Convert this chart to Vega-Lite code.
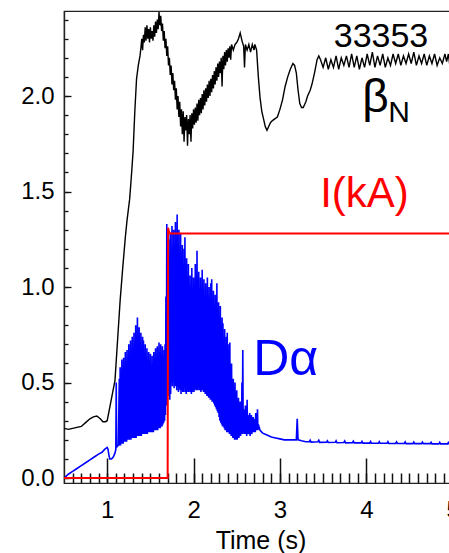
{
  "$schema": "https://vega.github.io/schema/vega-lite/v6.json",
  "autosize": "none",
  "width": 393,
  "height": 472,
  "padding": {"left": 64, "top": 11, "right": 0, "bottom": 70},
  "background": "white",
  "config": {
    "view": {"stroke": "#222", "strokeWidth": 1.2},
    "font": "Liberation Sans"
  },
  "resolve": {"axis": {"x": "independent", "y": "independent"}},
  "datasets": {
    "beta": [
      {"t":0.50,"v":0.26},{"t":0.55,"v":0.255},{"t":0.60,"v":0.26},{"t":0.65,"v":0.265},{"t":0.70,"v":0.27},{"t":0.75,"v":0.29},{"t":0.80,"v":0.31},{"t":0.84,"v":0.32},{"t":0.88,"v":0.325},{"t":0.92,"v":0.31},{"t":0.95,"v":0.295},{"t":0.98,"v":0.295},{"t":1.00,"v":0.30},{"t":1.03,"v":0.37},{"t":1.06,"v":0.44},{"t":1.09,"v":0.51},{"t":1.12,"v":0.72},{"t":1.15,"v":0.93},{"t":1.18,"v":1.10},{"t":1.21,"v":1.26},{"t":1.23,"v":1.35},{"t":1.26,"v":1.46},{"t":1.28,"v":1.58},{"t":1.30,"v":1.71},{"t":1.32,"v":1.92},{"t":1.34,"v":2.09},{"t":1.36,"v":2.16},{"t":1.38,"v":2.21},
      {"t":1.39,"v":2.25},{"t":1.40,"v":2.30},{"t":1.41,"v":2.24},{"t":1.42,"v":2.32},{"t":1.43,"v":2.28},{"t":1.44,"v":2.36},{"t":1.45,"v":2.29},{"t":1.46,"v":2.37},{"t":1.47,"v":2.30},{"t":1.48,"v":2.35},{"t":1.49,"v":2.28},{"t":1.50,"v":2.36},{"t":1.51,"v":2.30},{"t":1.52,"v":2.34},{"t":1.53,"v":2.29},{"t":1.54,"v":2.37},{"t":1.55,"v":2.31},{"t":1.56,"v":2.39},{"t":1.57,"v":2.33},{"t":1.58,"v":2.40},{"t":1.59,"v":2.35},{"t":1.60,"v":2.44},{"t":1.61,"v":2.37},{"t":1.62,"v":2.42},{"t":1.63,"v":2.34},{"t":1.64,"v":2.38},{"t":1.65,"v":2.29},{"t":1.66,"v":2.34},{"t":1.67,"v":2.25},{"t":1.68,"v":2.30},{"t":1.69,"v":2.21},{"t":1.70,"v":2.26},{"t":1.71,"v":2.16},{"t":1.72,"v":2.20},{"t":1.73,"v":2.11},{"t":1.74,"v":2.16},{"t":1.75,"v":2.06},{"t":1.76,"v":2.12},{"t":1.77,"v":2.03},{"t":1.78,"v":2.08},{"t":1.79,"v":1.98},{"t":1.80,"v":2.04},{"t":1.81,"v":1.93},{"t":1.82,"v":2.00},{"t":1.83,"v":1.89},{"t":1.84,"v":1.97},{"t":1.85,"v":1.84},{"t":1.86,"v":1.93},{"t":1.87,"v":1.80},{"t":1.88,"v":1.92},{"t":1.89,"v":1.76},{"t":1.90,"v":1.89},{"t":1.91,"v":1.82},{"t":1.92,"v":1.90},{"t":1.93,"v":1.74},{"t":1.94,"v":1.88},{"t":1.95,"v":1.80},{"t":1.96,"v":1.90},{"t":1.97,"v":1.76},{"t":1.98,"v":1.91},{"t":1.99,"v":1.83},{"t":2.00,"v":1.93},{"t":2.01,"v":1.85},{"t":2.02,"v":1.94},{"t":2.03,"v":1.86},{"t":2.04,"v":1.96},{"t":2.05,"v":1.87},{"t":2.06,"v":1.98},{"t":2.07,"v":1.90},{"t":2.08,"v":1.99},{"t":2.09,"v":1.91},{"t":2.10,"v":2.01},{"t":2.11,"v":1.93},{"t":2.12,"v":2.03},{"t":2.13,"v":1.95},{"t":2.14,"v":2.04},{"t":2.15,"v":1.97},{"t":2.16,"v":2.06},{"t":2.17,"v":1.99},{"t":2.18,"v":2.08},{"t":2.19,"v":2.00},{"t":2.20,"v":2.09},{"t":2.21,"v":2.02},{"t":2.22,"v":2.11},{"t":2.23,"v":2.04},{"t":2.24,"v":2.13},{"t":2.25,"v":2.06},{"t":2.26,"v":2.15},{"t":2.27,"v":2.08},{"t":2.28,"v":2.17},{"t":2.29,"v":2.10},{"t":2.30,"v":2.18},{"t":2.31,"v":2.12},{"t":2.32,"v":2.20},{"t":2.33,"v":2.05},{"t":2.34,"v":2.21},{"t":2.35,"v":2.14},{"t":2.36,"v":2.23},{"t":2.37,"v":2.16},{"t":2.38,"v":2.24},{"t":2.39,"v":2.18},{"t":2.40,"v":2.25},{"t":2.41,"v":2.20},{"t":2.42,"v":2.26},{"t":2.43,"v":2.19},{"t":2.44,"v":2.27},{"t":2.46,"v":2.24},{"t":2.48,"v":2.27},{"t":2.50,"v":2.28},{"t":2.52,"v":2.30},{"t":2.54,"v":2.33},{"t":2.56,"v":2.29},{"t":2.58,"v":2.26},{"t":2.59,"v":2.15},{"t":2.60,"v":2.27},{"t":2.62,"v":2.24},{"t":2.64,"v":2.27},{"t":2.66,"v":2.23},{"t":2.68,"v":2.27},{"t":2.70,"v":2.24},{"t":2.71,"v":2.27},{"t":2.73,"v":2.24},{"t":2.75,"v":2.10},{"t":2.77,"v":1.99},{"t":2.79,"v":1.92},{"t":2.81,"v":1.88},{"t":2.83,"v":1.84},{"t":2.85,"v":1.82},{"t":2.87,"v":1.84},{"t":2.89,"v":1.86},{"t":2.91,"v":1.87},{"t":2.94,"v":1.88},{"t":2.97,"v":1.89},{"t":3.00,"v":1.93},{"t":3.03,"v":1.98},{"t":3.06,"v":2.05},{"t":3.09,"v":2.10},{"t":3.12,"v":2.14},{"t":3.15,"v":2.17},{"t":3.17,"v":2.16},{"t":3.19,"v":2.12},{"t":3.21,"v":2.03},{"t":3.23,"v":1.96},{"t":3.25,"v":1.94},{"t":3.27,"v":1.94},{"t":3.30,"v":1.97},{"t":3.32,"v":2.00},{"t":3.35,"v":2.03},{"t":3.37,"v":2.06},{"t":3.40,"v":2.12},{"t":3.43,"v":2.19},{"t":3.45,"v":2.21},{"t":3.47,"v":2.19},
      {"t":3.50,"v":2.15},{"t":3.53,"v":2.20},{"t":3.56,"v":2.14},{"t":3.59,"v":2.19},{"t":3.62,"v":2.15},{"t":3.65,"v":2.21},{"t":3.68,"v":2.14},{"t":3.71,"v":2.20},{"t":3.74,"v":2.16},{"t":3.77,"v":2.21},{"t":3.80,"v":2.15},{"t":3.83,"v":2.22},{"t":3.86,"v":2.15},{"t":3.89,"v":2.21},{"t":3.92,"v":2.14},{"t":3.95,"v":2.20},{"t":3.98,"v":2.15},{"t":4.01,"v":2.22},{"t":4.04,"v":2.16},{"t":4.07,"v":2.23},{"t":4.10,"v":2.15},{"t":4.13,"v":2.21},{"t":4.16,"v":2.16},{"t":4.19,"v":2.22},{"t":4.22,"v":2.15},{"t":4.25,"v":2.20},{"t":4.28,"v":2.16},{"t":4.31,"v":2.22},{"t":4.34,"v":2.17},{"t":4.37,"v":2.22},{"t":4.40,"v":2.16},{"t":4.43,"v":2.21},{"t":4.46,"v":2.17},{"t":4.49,"v":2.22},{"t":4.52,"v":2.17},{"t":4.55,"v":2.23},{"t":4.58,"v":2.16},{"t":4.61,"v":2.21},{"t":4.64,"v":2.17},{"t":4.67,"v":2.22},{"t":4.70,"v":2.16},{"t":4.73,"v":2.21},{"t":4.76,"v":2.17},{"t":4.79,"v":2.22},{"t":4.82,"v":2.16},{"t":4.85,"v":2.20},{"t":4.88,"v":2.17},{"t":4.91,"v":2.22},{"t":4.93,"v":2.18},{"t":4.95,"v":2.22},{"t":4.97,"v":2.15},{"t":4.99,"v":2.05},{"t":5.02,"v":1.98}
    ],
    "current": [
      {"t":0.50,"v":0.0},{"t":1.70,"v":0.0},{"t":1.705,"v":1.31},{"t":1.715,"v":1.29},{"t":1.73,"v":1.28},{"t":2.5,"v":1.28},{"t":3.5,"v":1.28},{"t":4.5,"v":1.28},{"t":4.97,"v":1.28},{"t":4.975,"v":0.0},{"t":5.05,"v":0.0}
    ],
    "dalpha": [
      {"t":0.50,"v":0.0},{"t":0.55,"v":0.02},{"t":0.60,"v":0.035},{"t":0.65,"v":0.05},{"t":0.70,"v":0.065},{"t":0.75,"v":0.08},{"t":0.80,"v":0.095},{"t":0.85,"v":0.11},{"t":0.90,"v":0.125},{"t":0.94,"v":0.135},{"t":0.97,"v":0.15},{"t":1.00,"v":0.16},{"t":1.01,"v":0.15},{"t":1.02,"v":0.12},{"t":1.03,"v":0.10},{"t":1.05,"v":0.10},{"t":1.07,"v":0.11},{"t":1.09,"v":0.13},{"t":1.10,"v":0.15},{"t":1.105,"v":0.50},{"t":1.11,"v":0.16},{"t":1.12,"v":0.17},{"t":1.13,"v":0.17},
      {"t":1.140,"v":0.52},{"t":1.145,"v":0.17},{"t":1.150,"v":0.58},{"t":1.155,"v":0.17},{"t":1.160,"v":0.50},{"t":1.165,"v":0.18},{"t":1.170,"v":0.62},{"t":1.175,"v":0.18},{"t":1.180,"v":0.55},{"t":1.185,"v":0.18},{"t":1.190,"v":0.63},{"t":1.195,"v":0.19},{"t":1.200,"v":0.57},{"t":1.205,"v":0.19},{"t":1.210,"v":0.66},{"t":1.215,"v":0.19},{"t":1.220,"v":0.60},{"t":1.225,"v":0.19},{"t":1.230,"v":0.67},{"t":1.235,"v":0.20},{"t":1.240,"v":0.62},{"t":1.245,"v":0.20},{"t":1.250,"v":0.70},{"t":1.255,"v":0.20},{"t":1.260,"v":0.64},{"t":1.265,"v":0.20},{"t":1.270,"v":0.72},{"t":1.275,"v":0.20},{"t":1.280,"v":0.66},{"t":1.285,"v":0.21},{"t":1.290,"v":0.74},{"t":1.295,"v":0.21},{"t":1.300,"v":0.68},{"t":1.305,"v":0.21},{"t":1.310,"v":0.76},{"t":1.315,"v":0.21},{"t":1.320,"v":0.70},{"t":1.325,"v":0.21},{"t":1.330,"v":0.80},{"t":1.335,"v":0.21},{"t":1.340,"v":0.72},{"t":1.345,"v":0.22},{"t":1.350,"v":0.84},{"t":1.355,"v":0.22},{"t":1.360,"v":0.74},{"t":1.365,"v":0.22},{"t":1.370,"v":0.79},{"t":1.375,"v":0.22},{"t":1.380,"v":0.70},{"t":1.385,"v":0.22},{"t":1.390,"v":0.76},{"t":1.395,"v":0.22},{"t":1.400,"v":0.68},{"t":1.405,"v":0.23},{"t":1.410,"v":0.74},{"t":1.415,"v":0.23},{"t":1.420,"v":0.72},{"t":1.425,"v":0.23},{"t":1.430,"v":0.66},{"t":1.435,"v":0.23},{"t":1.440,"v":0.70},{"t":1.445,"v":0.23},{"t":1.450,"v":0.62},{"t":1.455,"v":0.23},{"t":1.460,"v":0.68},{"t":1.465,"v":0.23},{"t":1.470,"v":0.60},{"t":1.475,"v":0.24},{"t":1.480,"v":0.66},{"t":1.485,"v":0.24},{"t":1.490,"v":0.61},{"t":1.495,"v":0.24},{"t":1.500,"v":0.65},{"t":1.505,"v":0.24},{"t":1.510,"v":0.58},{"t":1.515,"v":0.24},{"t":1.520,"v":0.64},{"t":1.525,"v":0.24},{"t":1.530,"v":0.60},{"t":1.535,"v":0.24},{"t":1.540,"v":0.66},{"t":1.545,"v":0.25},{"t":1.550,"v":0.62},{"t":1.555,"v":0.25},{"t":1.560,"v":0.68},{"t":1.565,"v":0.25},{"t":1.570,"v":0.61},{"t":1.575,"v":0.25},{"t":1.580,"v":0.69},{"t":1.585,"v":0.25},{"t":1.590,"v":0.64},{"t":1.595,"v":0.26},{"t":1.600,"v":0.71},{"t":1.605,"v":0.26},{"t":1.610,"v":0.66},{"t":1.615,"v":0.26},{"t":1.620,"v":0.70},{"t":1.625,"v":0.27},{"t":1.630,"v":0.65},{"t":1.635,"v":0.27},{"t":1.640,"v":0.69},{"t":1.645,"v":0.28},{"t":1.650,"v":0.64},{"t":1.655,"v":0.29},{"t":1.660,"v":0.67},{"t":1.665,"v":0.30},{"t":1.670,"v":0.70},{"t":1.675,"v":0.33},{"t":1.680,"v":0.95},{"t":1.685,"v":0.38},{"t":1.690,"v":1.33},{"t":1.695,"v":0.41},
      {"t":1.700,"v":1.10},{"t":1.705,"v":0.43},{"t":1.710,"v":1.25},{"t":1.715,"v":0.45},{"t":1.720,"v":1.00},{"t":1.725,"v":0.41},{"t":1.730,"v":1.28},{"t":1.735,"v":0.44},{"t":1.740,"v":1.15},{"t":1.745,"v":0.50},{"t":1.750,"v":1.32},{"t":1.755,"v":0.48},{"t":1.760,"v":1.20},{"t":1.765,"v":0.50},{"t":1.770,"v":1.30},{"t":1.775,"v":0.47},{"t":1.780,"v":1.22},{"t":1.785,"v":0.49},{"t":1.790,"v":1.34},{"t":1.795,"v":0.48},{"t":1.800,"v":1.25},{"t":1.805,"v":0.46},{"t":1.810,"v":1.38},{"t":1.815,"v":0.48},{"t":1.820,"v":1.20},{"t":1.825,"v":0.45},{"t":1.830,"v":1.30},{"t":1.835,"v":0.47},{"t":1.840,"v":1.18},{"t":1.845,"v":0.46},{"t":1.850,"v":1.28},{"t":1.855,"v":0.44},{"t":1.860,"v":1.15},{"t":1.865,"v":0.46},{"t":1.870,"v":1.22},{"t":1.875,"v":0.45},{"t":1.880,"v":1.10},{"t":1.885,"v":0.45},{"t":1.890,"v":1.20},{"t":1.895,"v":0.47},{"t":1.900,"v":1.26},{"t":1.905,"v":0.45},{"t":1.910,"v":1.08},{"t":1.915,"v":0.44},{"t":1.920,"v":1.15},{"t":1.925,"v":0.46},{"t":1.930,"v":1.02},{"t":1.935,"v":0.45},{"t":1.940,"v":1.12},{"t":1.945,"v":0.45},{"t":1.950,"v":1.00},{"t":1.955,"v":0.46},{"t":1.960,"v":1.06},{"t":1.965,"v":0.45},{"t":1.970,"v":0.98},{"t":1.975,"v":0.44},{"t":1.980,"v":1.10},{"t":1.985,"v":0.45},{"t":1.990,"v":0.96},{"t":1.995,"v":0.46},
      {"t":2.000,"v":1.05},{"t":2.005,"v":0.45},{"t":2.010,"v":0.95},{"t":2.015,"v":0.46},{"t":2.020,"v":1.12},{"t":2.025,"v":0.47},{"t":2.030,"v":1.00},{"t":2.035,"v":0.46},{"t":2.040,"v":1.19},{"t":2.045,"v":0.46},{"t":2.050,"v":1.02},{"t":2.055,"v":0.47},{"t":2.060,"v":1.08},{"t":2.065,"v":0.46},{"t":2.070,"v":0.95},{"t":2.075,"v":0.46},{"t":2.080,"v":1.05},{"t":2.085,"v":0.45},{"t":2.090,"v":0.97},{"t":2.095,"v":0.46},{"t":2.100,"v":1.09},{"t":2.105,"v":0.46},{"t":2.110,"v":0.98},{"t":2.115,"v":0.45},{"t":2.120,"v":1.04},{"t":2.125,"v":0.45},{"t":2.130,"v":0.94},{"t":2.135,"v":0.44},{"t":2.140,"v":1.02},{"t":2.145,"v":0.44},{"t":2.150,"v":0.96},{"t":2.155,"v":0.43},{"t":2.160,"v":1.05},{"t":2.165,"v":0.43},{"t":2.170,"v":0.95},{"t":2.175,"v":0.42},{"t":2.180,"v":1.00},{"t":2.185,"v":0.42},{"t":2.190,"v":0.93},{"t":2.195,"v":0.41},{"t":2.200,"v":1.02},{"t":2.205,"v":0.41},{"t":2.210,"v":1.04},{"t":2.215,"v":0.40},{"t":2.220,"v":0.92},{"t":2.225,"v":0.40},{"t":2.230,"v":0.98},{"t":2.235,"v":0.39},{"t":2.240,"v":0.88},{"t":2.245,"v":0.38},{"t":2.250,"v":0.96},{"t":2.255,"v":0.37},{"t":2.260,"v":0.90},{"t":2.265,"v":0.36},{"t":2.270,"v":1.02},{"t":2.275,"v":0.35},{"t":2.280,"v":0.86},{"t":2.285,"v":0.34},{"t":2.290,"v":0.92},{"t":2.295,"v":0.32},{"t":2.300,"v":0.84},{"t":2.305,"v":0.30},{"t":2.310,"v":0.90},{"t":2.315,"v":0.29},{"t":2.320,"v":0.78},{"t":2.325,"v":0.28},{"t":2.330,"v":0.84},{"t":2.335,"v":0.27},{"t":2.340,"v":0.81},{"t":2.345,"v":0.27},{"t":2.350,"v":0.72},{"t":2.355,"v":0.26},{"t":2.360,"v":0.78},{"t":2.365,"v":0.25},{"t":2.370,"v":0.68},{"t":2.375,"v":0.25},{"t":2.380,"v":0.74},{"t":2.385,"v":0.24},{"t":2.390,"v":0.76},{"t":2.395,"v":0.24},{"t":2.400,"v":0.62},{"t":2.405,"v":0.24},{"t":2.410,"v":0.70},{"t":2.415,"v":0.23},{"t":2.420,"v":0.71},{"t":2.425,"v":0.23},{"t":2.430,"v":0.55},{"t":2.435,"v":0.22},{"t":2.440,"v":0.60},{"t":2.445,"v":0.22},{"t":2.450,"v":0.48},{"t":2.455,"v":0.21},{"t":2.460,"v":0.52},{"t":2.465,"v":0.21},{"t":2.470,"v":0.44},{"t":2.475,"v":0.20},{"t":2.480,"v":0.50},{"t":2.485,"v":0.20},{"t":2.490,"v":0.40},{"t":2.495,"v":0.20},
      {"t":2.500,"v":0.46},{"t":2.505,"v":0.20},{"t":2.510,"v":0.38},{"t":2.515,"v":0.21},{"t":2.520,"v":0.42},{"t":2.525,"v":0.21},{"t":2.530,"v":0.36},{"t":2.535,"v":0.22},{"t":2.540,"v":0.40},{"t":2.545,"v":0.22},{"t":2.550,"v":0.35},{"t":2.555,"v":0.23},{"t":2.560,"v":0.50},{"t":2.565,"v":0.23},{"t":2.570,"v":0.67},{"t":2.575,"v":0.24},{"t":2.580,"v":0.36},{"t":2.585,"v":0.23},{"t":2.590,"v":0.33},{"t":2.595,"v":0.23},{"t":2.600,"v":0.38},{"t":2.605,"v":0.23},{"t":2.610,"v":0.32},{"t":2.615,"v":0.22},{"t":2.620,"v":0.41},{"t":2.625,"v":0.23},{"t":2.630,"v":0.33},{"t":2.635,"v":0.23},{"t":2.640,"v":0.30},{"t":2.645,"v":0.23},{"t":2.650,"v":0.34},{"t":2.655,"v":0.22},{"t":2.660,"v":0.31},{"t":2.665,"v":0.23},{"t":2.670,"v":0.33},{"t":2.675,"v":0.23},{"t":2.680,"v":0.30},{"t":2.685,"v":0.24},{"t":2.690,"v":0.32},{"t":2.695,"v":0.24},{"t":2.700,"v":0.29},{"t":2.705,"v":0.24},{"t":2.710,"v":0.31},{"t":2.715,"v":0.24},{"t":2.720,"v":0.34},{"t":2.725,"v":0.25},{"t":2.730,"v":0.30},{"t":2.735,"v":0.25},{"t":2.740,"v":0.36},{"t":2.745,"v":0.25},{"t":2.750,"v":0.28},
      {"t":2.77,"v":0.25},{"t":2.80,"v":0.235},{"t":2.85,"v":0.225},{"t":2.90,"v":0.215},{"t":2.95,"v":0.21},{"t":3.00,"v":0.205},{"t":3.05,"v":0.20},{"t":3.10,"v":0.20},{"t":3.15,"v":0.20},{"t":3.19,"v":0.20},{"t":3.20,"v":0.31},{"t":3.21,"v":0.20},{"t":3.25,"v":0.195},{"t":3.30,"v":0.19},{"t":3.34,"v":0.19},{"t":3.35,"v":0.198},{"t":3.36,"v":0.188},{"t":3.44,"v":0.19},{"t":3.45,"v":0.198},{"t":3.46,"v":0.187},{"t":3.54,"v":0.188},{"t":3.55,"v":0.195},{"t":3.56,"v":0.186},{"t":3.64,"v":0.187},{"t":3.65,"v":0.195},{"t":3.66,"v":0.185},{"t":3.74,"v":0.186},{"t":3.75,"v":0.194},{"t":3.76,"v":0.184},{"t":3.84,"v":0.185},{"t":3.85,"v":0.193},{"t":3.86,"v":0.184},{"t":3.94,"v":0.184},{"t":3.95,"v":0.192},{"t":3.96,"v":0.183},{"t":4.04,"v":0.183},{"t":4.05,"v":0.191},{"t":4.06,"v":0.182},{"t":4.14,"v":0.182},{"t":4.15,"v":0.19},{"t":4.16,"v":0.182},{"t":4.24,"v":0.182},{"t":4.25,"v":0.19},{"t":4.26,"v":0.181},{"t":4.34,"v":0.181},{"t":4.35,"v":0.189},{"t":4.36,"v":0.181},{"t":4.44,"v":0.181},{"t":4.45,"v":0.189},{"t":4.46,"v":0.18},{"t":4.54,"v":0.18},{"t":4.55,"v":0.188},{"t":4.56,"v":0.18},{"t":4.64,"v":0.18},{"t":4.65,"v":0.188},{"t":4.66,"v":0.18},{"t":4.74,"v":0.18},{"t":4.75,"v":0.187},{"t":4.76,"v":0.179},{"t":4.84,"v":0.179},{"t":4.85,"v":0.187},{"t":4.86,"v":0.179},{"t":4.94,"v":0.179},{"t":4.95,"v":0.186},{"t":4.96,"v":0.178},{"t":5.02,"v":0.175}
    ]
  },
  "layer": [
    {
      "data": {"name": "beta"},
      "mark": {"type": "line", "color": "black", "strokeWidth": 1.4, "clip": true},
      "encoding": {
        "x": {"field": "t", "type": "quantitative", "scale": {"domain": [0.5, 5.05], "nice": false, "zero": false},
          "axis": {"orient": "bottom", "title": null, "labels": false, "domain": true, "domainColor": "#222", "domainWidth": 1.2, "grid": false, "tickCount": 1000,
            "values": [0.6,0.7,0.8,0.9,1,1.1,1.2,1.3,1.4,1.5,1.6,1.7,1.8,1.9,2,2.1,2.2,2.3,2.4,2.5,2.6,2.7,2.8,2.9,3,3.1,3.2,3.3,3.4,3.5,3.6,3.7,3.8,3.9,4,4.1,4.2,4.3,4.4,4.5,4.6,4.7,4.8,4.9,5],
            "tickSize": -10, "tickColor": "#111", "tickWidth": 1.5}},
        "y": {"field": "v", "type": "quantitative", "scale": {"domain": [-0.026, 2.445], "nice": false, "zero": false},
          "axis": {"orient": "left", "title": null, "labels": false, "domain": true, "domainColor": "#222", "domainWidth": 1.2, "grid": false, "tickCount": 1000,
            "values": [0,0.1,0.2,0.3,0.4,0.5,0.6,0.7,0.8,0.9,1,1.1,1.2,1.3,1.4,1.5,1.6,1.7,1.8,1.9,2,2.1,2.2,2.3,2.4],
            "tickSize": -4, "tickColor": "#111", "tickWidth": 1.3}}
      }
    },
    {
      "data": {"name": "dalpha"},
      "mark": {"type": "line", "color": "#0000ff", "strokeWidth": 1.6, "clip": true},
      "encoding": {
        "x": {"field": "t", "type": "quantitative",
          "axis": {"orient": "bottom", "title": "Time (s)", "titleFont": "Liberation Sans", "titleFontSize": 25, "titleFontWeight": "normal", "titleColor": "black", "titlePadding": 6,
            "values": [1,2,3,4,5], "format": "d", "tickCount": 1000,
            "labelFont": "Liberation Sans", "labelFontSize": 24, "labelColor": "black", "labelFlush": false, "labelOverlap": false,
            "tickSize": -25, "tickColor": "#111", "tickWidth": 1.5, "labelPadding": 40, "domainColor": "#222", "domainWidth": 1.2, "grid": false}},
        "y": {"field": "v", "type": "quantitative",
          "axis": {"orient": "left", "title": null,
            "values": [0,0.5,1,1.5,2], "format": ".1f", "tickCount": 1000,
            "labelFont": "Liberation Sans", "labelFontSize": 24, "labelColor": "black", "labelFlush": false, "labelOverlap": false,
            "tickSize": -7, "tickColor": "#111", "tickWidth": 1.3, "labelPadding": 17, "domainColor": "#222", "domainWidth": 1.2, "grid": false}}
      }
    },
    {
      "data": {"name": "current"},
      "mark": {"type": "line", "color": "#ff0000", "strokeWidth": 2, "clip": true},
      "encoding": {
        "x": {"field": "t", "type": "quantitative", "axis": null},
        "y": {"field": "v", "type": "quantitative", "axis": null}
      }
    },
    {"data": {"values": [{"t": 4.17, "v": 2.257, "label": "33353"}]}, "mark": {"type": "text", "font": "Liberation Sans", "fontSize": 34, "align": "center", "baseline": "alphabetic", "color": "black"},
      "encoding": {"x": {"field": "t", "type": "quantitative", "axis": null}, "y": {"field": "v", "type": "quantitative", "axis": null}, "text": {"field": "label"}}},
    {"data": {"values": [{"t": 3.953, "v": 1.916, "label": "β"}]}, "mark": {"type": "text", "font": "Liberation Sans", "fontSize": 46, "align": "left", "baseline": "alphabetic", "color": "black"},
      "encoding": {"x": {"field": "t", "type": "quantitative", "axis": null}, "y": {"field": "v", "type": "quantitative", "axis": null}, "text": {"field": "label"}}},
    {"data": {"values": [{"t": 4.254, "v": 1.864, "label": "N"}]}, "mark": {"type": "text", "font": "Liberation Sans", "fontSize": 30, "align": "left", "baseline": "alphabetic", "color": "black"},
      "encoding": {"x": {"field": "t", "type": "quantitative", "axis": null}, "y": {"field": "v", "type": "quantitative", "axis": null}, "text": {"field": "label"}}},
    {"data": {"values": [{"t": 3.466, "v": 1.419, "label": "I(kA)"}]}, "mark": {"type": "text", "font": "Liberation Sans", "fontSize": 42, "align": "left", "baseline": "alphabetic", "color": "#ff0000"},
      "encoding": {"x": {"field": "t", "type": "quantitative", "axis": null}, "y": {"field": "v", "type": "quantitative", "axis": null}, "text": {"field": "label"}}},
    {"data": {"values": [{"t": 2.69, "v": 0.539, "label": "Dα"}]}, "mark": {"type": "text", "font": "Liberation Sans", "fontSize": 50, "align": "left", "baseline": "alphabetic", "color": "#0000ff"},
      "encoding": {"x": {"field": "t", "type": "quantitative", "axis": null}, "y": {"field": "v", "type": "quantitative", "axis": null}, "text": {"field": "label"}}}
  ]
}
